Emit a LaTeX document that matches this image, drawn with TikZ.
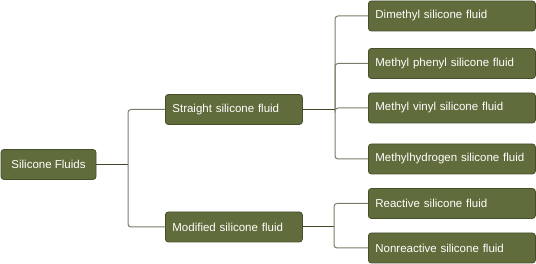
\documentclass[tikz,border=0pt]{standalone}
\usepackage{fontspec}
\setmainfont{Liberation Sans}
\usetikzlibrary{arrows, arrows.meta}

\definecolor{boxfill}{HTML}{606C3B}
\definecolor{boxline}{HTML}{464F2A}
\definecolor{stubline}{HTML}{3F4728}
\definecolor{branchline}{HTML}{7A7C6A}

\begin{document}
\begin{tikzpicture}[x=1pt, y=-1pt,
    box/.style={draw=boxline, fill=boxfill, line width=0.8pt, rounded corners=3pt,
      text=white, font=\fontsize{11.5}{13}\selectfont, minimum height=30, inner xsep=7pt},
    rootbox/.style={box, minimum width=95, align=center},
    midbox/.style={box, text width=123, align=left, anchor=west},
    leafbox/.style={box, text width=153, align=left, anchor=west},
    stub/.style={draw=stubline, line width=1pt},
    branch/.style={draw=branchline, line width=1pt, rounded corners=3pt}]
  \useasboundingbox (0,0) rectangle (536,264);

  % Coordinates
  \coordinate (R) at (48.5, 164.5);
  \coordinate (S) at (165, 109.5);
  \coordinate (M) at (165, 227);
  \coordinate (L1) at (368, 16);
  \coordinate (L2) at (368, 63.5);
  \coordinate (L3) at (368, 108);
  \coordinate (L4) at (368, 159);
  \coordinate (L5) at (368, 203.5);
  \coordinate (L6) at (368, 248);
  \coordinate (J0) at (128, 164.5);
  \coordinate (J1) at (335, 109.5);
  \coordinate (J2) at (334, 227);

  % Nodes
  \node[rootbox] (root) at (R) {Silicone Fluids};
  \node[midbox] (straight) at (S) {Straight silicone fluid};
  \node[midbox] (modified) at (M) {Modified silicone fluid};
  \node[leafbox] (dimethyl) at (L1) {Dimethyl silicone fluid};
  \node[leafbox] (phenyl) at (L2) {Methyl phenyl silicone fluid};
  \node[leafbox] (vinyl) at (L3) {Methyl vinyl silicone fluid};
  \node[leafbox] (hydrogen) at (L4) {Methylhydrogen silicone fluid};
  \node[leafbox] (reactive) at (L5) {Reactive silicone fluid};
  \node[leafbox] (nonreactive) at (L6) {Nonreactive silicone fluid};

  % Drawing
  \draw[stub] (root.east) -- (J0);
  \draw[branch] (J0) |- (straight.west);
  \draw[branch] (J0) |- (modified.west);
  \draw[stub] (straight.east) -- (J1);
  \draw[branch] (J1) |- (dimethyl.west);
  \draw[branch] (J1) |- (phenyl.west);
  \draw[branch] (J1) |- (vinyl.west);
  \draw[branch] (J1) |- (hydrogen.west);
  \draw[stub] (modified.east) -- (J2);
  \draw[branch] (J2) |- (reactive.west);
  \draw[branch] (J2) |- (nonreactive.west);
\end{tikzpicture}
\end{document}
